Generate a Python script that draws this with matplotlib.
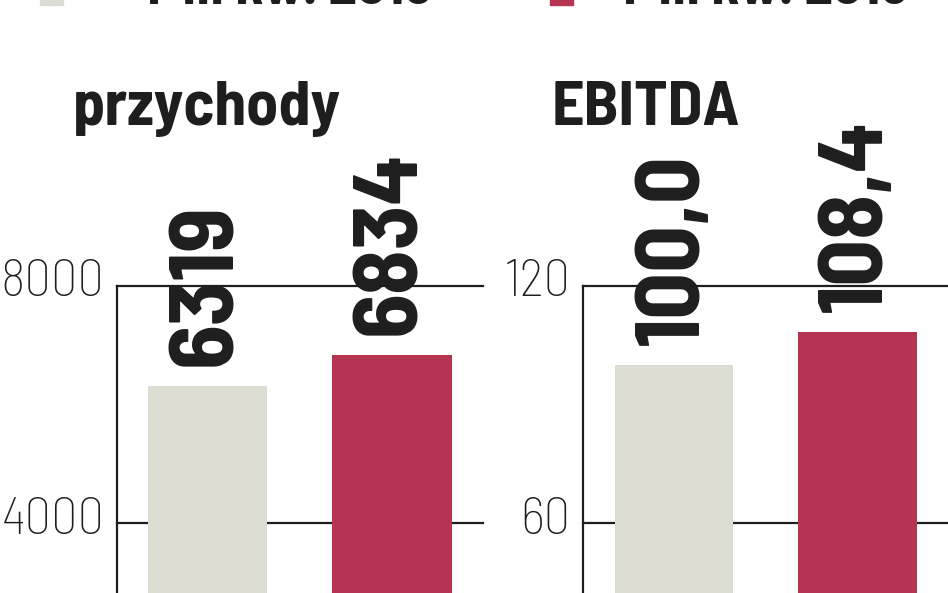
import matplotlib.pyplot as plt
import matplotlib.transforms as mtransforms
from matplotlib.patches import Rectangle

# dane
periods = ['I-III kw. 2015', 'I-III kw. 2016']
przychody = [6319, 6834]
ebitda = [100.0, 108.4]
przychody_labels = ['6319', '6834']
ebitda_labels = ['100,0', '108,4']
przychody_ticks = [4000, 8000]
ebitda_ticks = [60, 120]

colors = ['#dcdcd2', '#b73352']
dark = '#1e1e1e'
plt.rcParams['font.family'] = ['Barlow Semi Condensed', 'Barlow Condensed',
                               'Roboto Condensed', 'Roboto', 'DejaVu Sans']

W, H = 948, 593
fig = plt.figure(figsize=(W / 100, H / 100), dpi=100)


def fx(px):
    return px / W


def fy(py):
    return 1 - py / H


def panel(left_px, right_px, xlim, values, labels, ticks, ymax, title, title_x):
    bottom = fy(760)
    top = fy(286)
    ax = fig.add_axes([fx(left_px), bottom, fx(right_px - left_px), top - bottom])
    ax.set_xlim(*xlim)
    ax.set_ylim(0, ymax)
    for s in ['top', 'right', 'bottom']:
        ax.spines[s].set_visible(False)
    ax.spines['left'].set_linewidth(1.6)
    ax.spines['left'].set_color(dark)
    ax.set_xticks([])
    ax.set_yticks(ticks)
    ax.set_yticklabels([str(t) for t in ticks])
    ax.tick_params(axis='y', length=0, pad=9, labelsize=38, labelcolor=dark)
    shift = mtransforms.ScaledTranslation(0, 8 / 100, fig.dpi_scale_trans)
    for lab in ax.get_yticklabels():
        lab.set_fontweight('light')
        lab.set_transform(lab.get_transform() + shift)
    for t in ticks:
        ax.axhline(t, color=dark, lw=1.6, zorder=1, clip_on=False)
    bars = ax.bar([0, 1], values, width=0.645, color=colors, zorder=2)
    off = mtransforms.ScaledTranslation(0, 20 / 100, fig.dpi_scale_trans)
    for b, lab in zip(bars, labels):
        ax.text(b.get_x() + b.get_width() / 2, b.get_height(), lab,
                rotation=90, ha='center', va='bottom', fontsize=66,
                fontweight='bold', color=dark, clip_on=False,
                transform=ax.transData + off)
    fig.text(fx(title_x), fy(125), title, fontsize=46, fontweight='bold',
             color=dark, ha='left', va='baseline')
    return ax


panel(117, 483, (-0.49, 1.493), przychody, przychody_labels,
      przychody_ticks, 8000, 'przychody', 73)
panel(583, 1010, (-0.495, 1.83), ebitda, ebitda_labels,
      ebitda_ticks, 120, 'EBITDA', 552)

# legenda (przycięta u góry)
for sq_x, txt_x, col, name in [(40, 147, colors[0], periods[0]),
                               (550, 623, colors[1], periods[1])]:
    fig.patches.append(Rectangle((fx(sq_x), fy(5)), fx(23), 0.1,
                                 transform=fig.transFigure, color=col))
    fig.text(fx(txt_x), fy(4), name, fontsize=41, fontweight='bold',
             color=dark, ha='left', va='baseline')

fig.savefig('out.png', dpi=100)
